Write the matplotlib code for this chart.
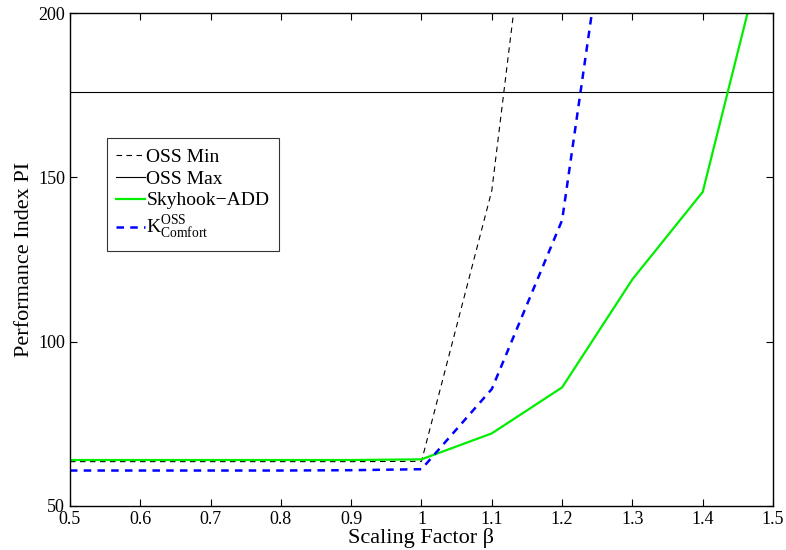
import numpy as np
import matplotlib
matplotlib.use('Agg')
import matplotlib.pyplot as plt

plt.rcParams['font.family'] = ['Liberation Serif', 'DejaVu Serif']
plt.rcParams['mathtext.fontset'] = 'custom'
plt.rcParams['mathtext.rm'] = 'Liberation Serif'
plt.rcParams['mathtext.it'] = 'Liberation Serif:italic'

# 数据
beta = [0.5, 0.6, 0.7, 0.8, 0.9, 1.0, 1.1, 1.2, 1.3, 1.4, 1.5]
oss_min = [63.5, 63.5, 63.5, 63.5, 63.5, 63.6, 146, 321, 500, 700, 900]
oss_max = [176, 176, 176, 176, 176, 176, 176, 176, 176, 176, 176]
skyhook = [64.0, 64.0, 64.0, 64.0, 64.0, 64.2, 72.1, 86.1, 119, 145.6, 231]
k_comfort = [60.8, 60.8, 60.8, 60.8, 60.9, 61.2, 85.6, 137, 286, 450, 650]

fig = plt.figure(figsize=(7.86, 5.5), dpi=100)
ax = fig.add_axes([0.089, 0.08, 0.8945, 0.896])

ax.plot(beta, oss_min, 'k--', lw=0.8, dashes=(5, 4), label='OSS Min')
ax.plot(beta, oss_max, 'k-', lw=0.8, label='OSS Max')
ax.plot(beta, skyhook, '-', color='#00ee00', lw=1.6, label='Skyhook\u2212ADD')
ax.plot(beta, k_comfort, '--', color='#0000ff', lw=1.8, dashes=(3, 2.5),
        label=r'$\mathregular{K^{OSS}_{Comfort}}$')

ax.set_xlim(0.5, 1.5)
ax.set_ylim(50, 200)
ax.set_xticks(np.arange(0.5, 1.51, 0.1))
ax.set_xticklabels(['0.5', '0.6', '0.7', '0.8', '0.9', '1', '1.1', '1.2', '1.3', '1.4', '1.5'])
ax.set_yticks([50, 100, 150, 200])
ax.tick_params(direction='in', top=True, right=True, labelsize=13, length=5, width=0.8)
for s in ax.spines.values():
    s.set_linewidth(1.0)

ax.set_xlabel('Scaling Factor \u03b2', fontsize=16, labelpad=0)
ax.set_ylabel('Performance Index PI', fontsize=16, labelpad=3)

leg = ax.legend(loc='upper left', bbox_to_anchor=(0.052, 0.746), fontsize=14,
                frameon=True, fancybox=False, edgecolor='black', handlelength=1.5,
                handletextpad=0.05, borderpad=0.5, labelspacing=0.22, borderaxespad=0)
leg.get_frame().set_linewidth(0.8)

fig.savefig('out.png', dpi=100)
